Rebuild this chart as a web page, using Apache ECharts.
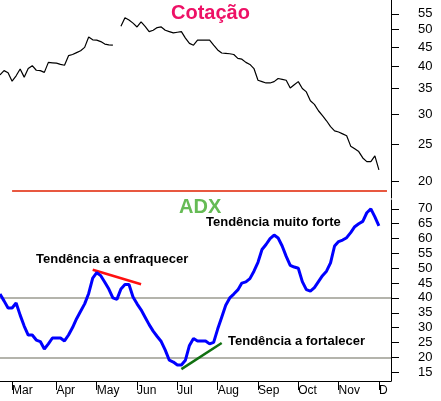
<!DOCTYPE html>
<html><head><meta charset="utf-8">
<script src="https://cdn.jsdelivr.net/npm/echarts@6/dist/echarts.min.js"></script>
<style>html,body{margin:0;padding:0;background:#fff}#c{width:441px;height:401px}</style>
</head><body><div id="c"></div>
<script>
const monthLabels = ['Mar','Apr','May','Jun','Jul','Aug','Sep','Oct','Nov','D'];
const monthIndex = [3,14,24,34,44,54,64,74,84,94];
const priceTicks = [20,25,30,35,40,45,50,55];
const adxTicks = [15,20,25,30,35,40,45,50,55,60,65,70];
const price = [38,39,38.5,36.6,37.8,39.4,37.5,39.5,40.2,39.1,39,38.6,41,40.9,40.8,40.5,40.3,42.7,43,43.5,44,44.9,47.8,47,46.9,46.5,45.8,45.6,45.5,null,
 51,53.7,53,52,50.8,52.4,51,49.4,49.8,50.6,50.8,49.8,49.4,49,49.2,49.4,47.5,46,45.5,46.9,46.9,46.9,46.9,45.5,44.2,43.4,43.3,43.2,43,42,
 41.8,41,40.5,39.5,36.8,36.5,36.2,36.2,36.5,37.2,37,36.8,35.1,35.8,36.5,35,34.3,32.5,31.8,30.6,29.7,28.8,27.8,27.1,26.9,26.6,26.3,24.7,24.3,23.9,
 23,22.5,22.5,23.3,21.4];
const adx = [41.3,39,36.6,36.6,38.3,34.2,30.5,27.5,27.5,25.8,25.3,22.8,24.5,26.5,26.5,26.5,25.5,27.5,30,33,35.5,38,41.5,46.7,48.5,47.5,45.3,43,40,39.5,
 43,44.5,44.5,40.3,38,36,33.5,31,28.8,27,25.3,22.4,19,18.4,17.4,17.4,19,24,26.3,25.5,25.5,25.5,24.5,25,29.5,33.5,37.5,40,41.3,42.7,
 45,45.4,46.5,49,52,56.3,58,60,61.2,60.2,57.5,54,51,50.4,50,45.5,42.8,42.3,43.5,45.5,47.5,49,51.8,57.5,59,59.5,60.3,62,64,65,
 65.8,68.7,70,67.3,64.3];
const N = 98;
const cats = [];
for (let i = 0; i < N; i++) { const k = monthIndex.indexOf(i); cats.push(k >= 0 ? monthLabels[k] : ''); }
const L = Math.log;
const font = 'Liberation Sans, Arial, sans-serif';
const chart = echarts.init(document.getElementById('c'));
chart.setOption({
  animation: false,
  grid: [
    {left: 0, right: 50, top: 0, height: 198},
    {left: 0, right: 50, top: 200, height: 181}
  ],
  xAxis: [
    {gridIndex: 0, type: 'category', data: cats, boundaryGap: false, show: false},
    {gridIndex: 1, type: 'category', data: cats, boundaryGap: false,
     axisLine: {lineStyle: {color: '#000', width: 1}},
     axisTick: {length: 9, lineStyle: {color: '#000'}, interval: (i, v) => v !== ''},
     axisLabel: {interval: (i, v) => v !== '', align: 'left', margin: 4, color: '#000', fontSize: 12, fontFamily: font}}
  ],
  yAxis: [
    {gridIndex: 0, type: 'value', position: 'right', min: L(18.05), max: L(59.8),
     splitLine: {show: false},
     axisLine: {show: true, lineStyle: {color: '#000'}},
     axisTick: {show: true, length: 8, customValues: priceTicks.map(L), lineStyle: {color: '#000'}},
     axisLabel: {customValues: priceTicks.map(L), formatter: v => Math.round(Math.exp(v)), margin: 27, color: '#000', fontSize: 13, fontFamily: font}},
    {gridIndex: 1, type: 'value', position: 'right', min: 12, max: 73,
     splitLine: {show: false},
     axisLine: {show: true, lineStyle: {color: '#000'}},
     axisTick: {show: true, length: 8, customValues: adxTicks, lineStyle: {color: '#000'}},
     axisLabel: {customValues: adxTicks, margin: 27, color: '#000', fontSize: 13, fontFamily: font}}
  ],
  series: [
    {type: 'line', xAxisIndex: 0, yAxisIndex: 0, data: price.map(v => v == null ? null : L(v)),
     symbol: 'none', lineStyle: {color: '#000', width: 1.2}, connectNulls: false,
     markLine: {silent: true, symbol: 'none', label: {show: false},
       lineStyle: {color: '#e02000', width: 1.5, type: 'solid'},
       data: [[{coord: [3, L(18.9)]}, {coord: [96, L(18.9)]}]]}},
    {type: 'line', xAxisIndex: 1, yAxisIndex: 1, data: adx, symbol: 'none',
     lineStyle: {color: '#0000ff', width: 3}, z: 5,
     markLine: {silent: true, symbol: 'none', label: {show: false},
       data: [
         {yAxis: 20, lineStyle: {color: '#b4b4ac', width: 2, type: 'solid'}},
         {yAxis: 40, lineStyle: {color: '#b4b4ac', width: 2, type: 'solid'}},
         [{coord: [23, 49.5], lineStyle: {color: '#ff1010', width: 2.5, type: 'solid'}}, {coord: [35, 44.6]}],
         [{coord: [45, 16], lineStyle: {color: '#107010', width: 2.5, type: 'solid'}}, {coord: [55, 24.8]}]
       ]}}
  ],
  graphic: [
    {type: 'text', left: 171, top: 3, style: {text: 'Cotação', fill: '#ee1166', font: 'bold 20px ' + font}},
    {type: 'text', left: 179, top: 197, style: {text: 'ADX', fill: '#66bb55', font: 'bold 20px ' + font}},
    {type: 'text', left: 206, top: 216, style: {text: 'Tendência muito forte', fill: '#000', font: 'bold 13px ' + font}},
    {type: 'text', left: 36, top: 253, style: {text: 'Tendência a enfraquecer', fill: '#000', font: 'bold 13px ' + font}},
    {type: 'text', left: 228, top: 335, style: {text: 'Tendência a fortalecer', fill: '#000', font: 'bold 13px ' + font}}
  ]
});
</script></body></html>
